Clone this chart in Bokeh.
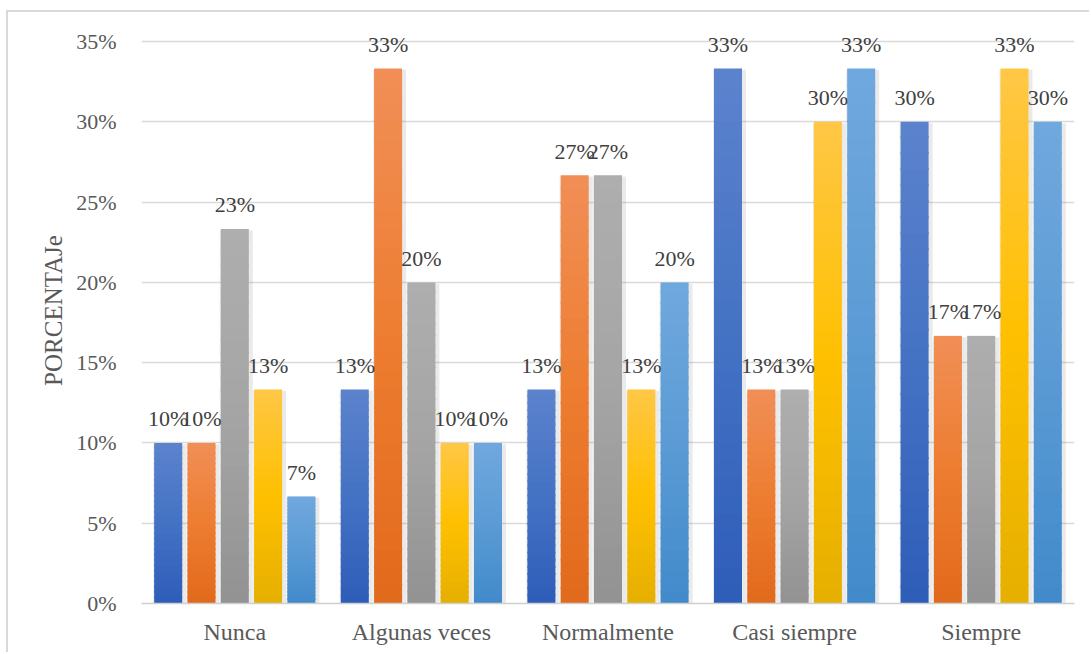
from bokeh.plotting import figure
from bokeh.models import Range1d, FixedTicker, PrintfTickFormatter, ColumnDataSource
from bokeh.core.properties import value
from bokeh.embed import file_html
from bokeh.resources import INLINE

categories = ["Nunca", "Algunas veces", "Normalmente", "Casi siempre", "Siempre"]
series_1 = [10.0, 13.33, 13.33, 33.33, 30.0]
series_2 = [10.0, 33.33, 26.67, 13.33, 16.67]
series_3 = [23.33, 20.0, 26.67, 13.33, 16.67]
series_4 = [13.33, 10.0, 13.33, 30.0, 33.33]
series_5 = [6.67, 10.0, 20.0, 33.33, 30.0]
y_ticks = [0, 5, 10, 15, 20, 25, 30, 35]

all_series = [series_1, series_2, series_3, series_4, series_5]
# (top, base, bottom) colours for the gradient of each series
palettes = [
    ("#5C83CD", "#4472C4", "#2E5DB9"),
    ("#F18F57", "#ED7D31", "#E2691B"),
    ("#AEAEAE", "#A5A5A5", "#929292"),
    ("#FFC746", "#FFC000", "#E5AF00"),
    ("#70A8DE", "#5B9BD5", "#418ACB"),
]

FONT = "Liberation Serif"
PX = 5 / 933.0          # one screen pixel in x data units
BAR_W = 28 * PX
PITCH = 33.3 * PX
N_SLICES = 30


def hex2rgb(h):
    h = h.lstrip("#")
    return tuple(int(h[i:i + 2], 16) for i in (0, 2, 4))


def mix(c1, c2, t):
    a, b = hex2rgb(c1), hex2rgb(c2)
    return "#%02x%02x%02x" % tuple(int(round(a[i] + (b[i] - a[i]) * t)) for i in range(3))


def grad(pal, t):
    top, base, bot = pal
    if t < 0.5:
        return mix(bot, base, t / 0.5)
    return mix(base, top, (t - 0.5) / 0.5)


p = figure(width=1083, height=642, x_range=Range1d(0, 5), y_range=Range1d(0, 36.5),
           output_backend="svg", toolbar_location=None,
           min_border_left=133, min_border_right=17, min_border_top=5, min_border_bottom=51)
p.outline_line_color = None
p.background_fill_color = "white"
p.border_fill_color = "white"
p.styles = {"margin-left": "6px", "margin-top": "10px",
            "border-left": "2px solid #D9D9D9", "border-top": "2px solid #D9D9D9"}

# soft shadows behind bars
for j, vals in enumerate(all_series):
    xs = [i + 0.5 + (j - 2) * PITCH + 1.5 * PX for i in range(len(categories))]
    p.vbar(x=xs, top=[v - 0.08 for v in vals], bottom=0, width=BAR_W + 5 * PX,
           fill_color="#7f7f7f", fill_alpha=0.16, line_color=None)

# gradient bars (stacked thin slices, overlapping slightly so no seams show)
for j, vals in enumerate(all_series):
    xs, bots, tops, cols = [], [], [], []
    for i, v in enumerate(vals):
        x = i + 0.5 + (j - 2) * PITCH
        for k in range(N_SLICES):
            t = (k + 0.5) / N_SLICES
            xs.append(x)
            bots.append(v * k / N_SLICES)
            tops.append(min(v, v * (k + 1) / N_SLICES + 0.12))
            cols.append(grad(palettes[j], t))
    src = ColumnDataSource(dict(x=xs, bottom=bots, top=tops, color=cols))
    p.vbar(x="x", bottom="bottom", top="top", width=BAR_W, fill_color="color",
           line_color=None, source=src)

# data labels
for j, vals in enumerate(all_series):
    xs = [i + 0.5 + (j - 2) * PITCH for i in range(len(categories))]
    labels = [f"{round(v)}%" for v in vals]
    src = ColumnDataSource(dict(x=xs, y=vals, t=labels))
    p.text(x="x", y="y", text="t", source=src, text_align="center", text_baseline="middle",
           y_offset=-24, text_font=value(FONT), text_font_size="22px",
           text_font_style="normal", text_color="#404040")

# axes
p.yaxis.ticker = FixedTicker(ticks=y_ticks)
p.yaxis.formatter = PrintfTickFormatter(format="%d%%")
p.yaxis.axis_line_color = None
p.yaxis.major_tick_line_color = None
p.yaxis.minor_tick_line_color = None
p.yaxis.major_label_standoff = 19
p.yaxis.major_label_text_font_size = "22px"
p.yaxis.axis_label = "PORCENTAJe"
p.yaxis.axis_label_standoff = 6
p.yaxis.axis_label_text_font = FONT
p.yaxis.axis_label_text_font_size = "25px"
p.yaxis.axis_label_text_font_style = "normal"
p.yaxis.axis_label_text_color = "#595959"

p.xaxis.ticker = FixedTicker(ticks=[i + 0.5 for i in range(len(categories))])
p.xaxis.major_label_overrides = {i + 0.5: c for i, c in enumerate(categories)}
p.xaxis.axis_line_color = "#CFCFCF"
p.xaxis.axis_line_width = 1.5
p.xaxis.major_tick_line_color = None
p.xaxis.minor_tick_line_color = None
p.xaxis.major_label_standoff = 9
p.xaxis.major_label_text_font_size = "24px"

for ax in (p.xaxis, p.yaxis):
    ax.major_label_text_font = FONT
    ax.major_label_text_font_style = "normal"
    ax.major_label_text_color = "#595959"

p.xgrid.grid_line_color = None
p.ygrid.grid_line_color = "#D9D9D9"
p.ygrid.grid_line_width = 1.5
p.ygrid.ticker = FixedTicker(ticks=y_ticks)

open("out.html", "w").write(file_html(p, INLINE))
